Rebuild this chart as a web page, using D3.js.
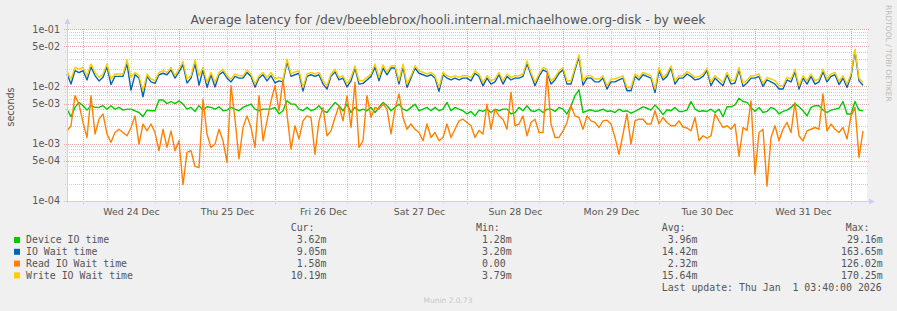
<!DOCTYPE html>
<html>
<head>
<meta charset="utf-8">
<script src="https://cdn.jsdelivr.net/npm/d3@7"></script>
<style>
body { margin: 0; background: #f0f0f0; }
svg { display: block; }
svg text { white-space: pre; }
</style>
</head>
<body>
<svg id="chart" width="897" height="311"></svg>
<script>
// hourly samples in milliseconds, first one at Tue 23 Dec 20:00
var deviceIO = [
  4.0,2.95,4.3,5.25,4.6,3.85,4.6,4.3,4.3,4.6, 4.0,4.6,4.0,4.3,3.85,4.0,4.0,3.75,3.5,2.95,
  3.85,3.75,3.75,5.8,5.8,5.0,5.45,5.0,5.6,4.9, 4.0,4.3,3.65,4.6,3.85,4.4,4.3,4.0,4.4,3.75,
  3.85,4.3,4.0,3.75,4.3,4.6,4.9,4.0,3.75,4.0,
  4.0,4.0,4.3,3.3,3.75,5.6,4.9,4.9,4.0,3.75, 4.3,3.75,4.0,4.6,3.75,3.5,4.3,5.25,4.6,3.75,
  4.9,3.5,4.3,3.75,4.0,3.75,4.3,3.5,4.3,5.25, 4.6,3.75,4.3,4.9,4.0,3.75,4.3,4.9,3.75,4.0,
  4.3,3.75,4.3,3.75,4.0,5.25,3.75,4.3,4.0,3.75,
  3.3,3.65,3.05,3.85,3.65,4.0,3.5,4.0,3.75,4.0, 4.0,3.3,3.5,4.3,3.75,4.6,3.75,3.65,4.0,3.5,
  4.0,4.0,3.65,4.3,4.0,3.3,4.6,6.9,8.7,3.5, 3.75,3.9,3.65,3.75,4.0,3.65,3.75,3.5,4.0,3.65,
  3.75,3.4,3.65,4.0,4.4,4.15,3.85,4.75,4.0,3.2,
  3.9,3.75,4.3,3.65,3.65,3.85,5.45,4.0,3.65,3.75, 3.65,4.0,3.5,4.0,2.95,4.4,4.4,4.75,6.2,5.45,
  5.25,4.3,3.65,4.3,3.5,3.65,4.3,4.0,3.3,3.65, 3.85,4.3,5.0,4.4,3.75,3.05,4.3,4.6,4.6,3.85,
  3.5,3.85,4.0,4.15,5.45,3.3,3.3,5.45,3.85,3.75
];
var ioWait = [
  16.5,11,19,17.5,19,13,22,15.5,12.5,14.5, 22,10.8,15,15,15,25,8.6,16,14,6.6,
  15,12,11.3,16,17,16,19.5,14,18,24, 11.5,14,25,10.5,19.5,9.6,16,9.8,16,18,
  14,12,15,14,14,17.5,15,9.7,14,16,
  12.5,15.5,11.5,12.5,12,27,15,16,17,8.3, 15,16,15,16,11,9,15,18,13,14,
  9.8,12.5,21,11,11.3,13,15,22,12.5,21, 16,21,21,11,22,9.6,14,21,17,16,
  15,16,14,8.2,16,14,13,14,13,14,
  14,12.5,17,15,10.2,14,11,12,16,11, 15,13,14,14,15,25,16,10.3,15,19.5,
  18,11,13,17,19.5,11,11,19.5,33,10.5, 14,14,12,12,14,9,12,12,13,14,
  8.4,8.4,15,13,16,15,14,7.8,19,13,
  15,21,11,14,14,16.5,15,13,13.5,15, 19,10.3,14,12,10.3,16,11,11.5,19.5,10,
  11.5,14,14,15,10,13,12,11,9,9, 13,12,18,9,14,11,15,11,12,18,
  12,15,16,10.8,14,9.6,15,42,12.5,10.5
];
var readWait = [
  1.67,2.05,6.9,4.9,2.34,1.28,6.9,1.47,2.67,3.3, 1.47,1.05,1.56,1.78,1.56,1.37,1.91,3.05,0.98,2.2,
  1.67,2.2,1.56,0.75,1.78,0.855,1.67,0.75,1.12,0.19, 0.7,0.75,0.4,0.38,6.0,1.47,0.855,0.98,1.78,1.12,
  0.47,10.3,2.67,0.54,1.91,3.05,1.91,0.855,6.9,1.12,
  2.5,5.6,10.3,3.75,13.5,3.3,0.8,2.05,1.2,2.5, 3.05,2.86,0.65,2.5,4.3,1.37,1.67,2.86,4.6,2.5,
  6.9,1.91,11.8,0.855,1.12,6.9,2.86,4.3,4.0,4.9, 4.0,1.47,4.0,7.4,2.86,1.78,2.2,1.78,1.56,1.12,
  2.2,1.28,1.56,1.12,1.28,2.2,1.28,1.78,2.5,2.67,
  2.34,2.05,1.28,1.7,1.47,4.9,1.78,4.0,3.05,2.67, 1.78,7.9,2.05,2.2,3.05,1.37,2.34,2.67,1.56,1.56,
  16.5,2.2,1.28,1.28,1.67,2.34,4.6,3.05,2.86,1.78, 3.05,2.5,2.34,1.91,2.5,2.57,2.2,1.28,0.65,1.47,
  3.3,0.98,2.5,2.67,2.67,2.2,2.2,3.75,2.2,2.86,
  2.34,2.05,2.05,2.5,1.95,1.87,1.67,2.86,1.12,1.37, 1.25,1.37,3.3,2.5,1.91,2.05,1.78,2.2,0.6,1.91,
  1.7,5.6,0.29,1.56,1.78,0.18,1.28,2.05,1.12,1.78, 2.34,1.56,5.25,1.37,1.12,1.67,1.78,1.91,1.78,7.4,
  1.67,2.2,1.78,1.56,1.91,1.2,3.05,4.3,0.57,1.67
];
var writeWait = [
  18.8,13.5,21.5,20,21.5,15.4,24.7,17.6,14.4,16.5, 24.7,13.5,16.5,16.5,16.5,29,14.4,17.6,15.4,8.4,
  16.5,13.5,12.6,17.6,18.8,17.6,21.5,15.4,20,27.5, 13.5,15.4,29,15.4,21.5,11.8,17.6,11.8,17.6,20,
  15.4,13.5,16.5,15.4,15.4,19.3,16.5,11,15.4,17.6,
  14.4,17.6,13.5,14.4,13.5,30,16.5,18,18.8,9.6, 16.5,17.6,16.5,17.6,12.6,10.3,16.5,20,14.4,15.4,
  11,14.4,23,12.6,12.6,14.4,16.5,24.7,14.4,24, 17.6,23,23,12.6,24.7,11,15.4,23,18.8,17.6,
  16.5,17.6,15.4,9.6,17.6,15.4,14.4,15.4,14.4,15.4,
  15.4,14.4,18.8,16.5,11.8,15.4,12.6,13.5,17.6,12.6, 16.5,14.4,15.4,15.4,16.5,28,17.6,11.8,16.5,21.5,
  20,12.6,14.4,18.8,21.5,12.6,12.6,21.5,36,12.6, 15.4,15.4,13.5,13.5,15.4,10.3,13.5,13.5,14.4,15.4,
  9.6,9.6,16.5,14.4,17.6,16.5,15.4,9,21.5,14.4,
  16.9,23,12.6,15.4,15.4,18.3,16.5,14.4,15,16.5, 21,11.8,15.4,13.5,11.8,17.6,12.6,13,21.5,11.4,
  13,15.4,15.4,16.5,11.4,14.4,13.5,12.6,10.3,10.3, 14.4,13.5,20,10.3,15.4,12.6,16.5,12.6,13.5,20,
  13.5,16.5,17.6,12.3,15.4,11,16.5,45,13.9,11.8
];

var seriesNames = ["Device IO time", "IO Wait time", "Read IO Wait time", "Write IO Wait time"];
var curVals = [" 3.62m", " 9.05m", " 1.58m", "10.19m"];
var minVals = [" 1.28m", " 3.20m", " 0.00", " 3.79m"];
var avgVals = [" 3.96m", "14.42m", " 2.32m", "15.64m"];
var maxVals = ["29.16m", "163.65m", "126.02m", "170.25m"];

var yTicks = [1e-1, 5e-2, 1e-2, 5e-3, 1e-3, 5e-4, 1e-4];
var yTickLabels = ["1e-01", "5e-02", "1e-02", "5e-03", "1e-03", "5e-04", "1e-04"];
var dayLabels = ["Wed 24 Dec", "Thu 25 Dec", "Fri 26 Dec", "Sat 27 Dec", "Sun 28 Dec", "Mon 29 Dec", "Tue 30 Dec", "Wed 31 Dec"];

var colors = ["#00cc00", "#0066b3", "#ff8000", "#ffcc00"];

function draw()
{
  var allSeries = [deviceIO, ioWait, readWait, writeWait];
  var svg = d3.select("#chart");
  var pLeft = 67, pRight = 867, pTop = 29.3, pBottom = 200.7;
  var start = Date.UTC(2025, 11, 23, 20, 0);
  var end = start + 800 * 900 * 1000;

  var x = d3.scaleUtc().domain([start, end]).range([pLeft, pRight]);
  var y = d3.scaleLog().domain([1e-4, 1e-1]).range([pBottom, pTop]);

  var sans = "DejaVu Sans, sans-serif";
  var mono = "DejaVu Sans Mono, monospace";

  svg.append("rect").attr("x", pLeft).attr("y", 29).attr("width", pRight - pLeft).attr("height", 172)
    .attr("fill", "#fff");

  // horizontal grid
  var hmin = [], hmaj = [];
  [1e-4, 1e-3, 1e-2].forEach(function(d) {
    for (var m = 1; m <= 9; m++) {
      if (m == 1 || m == 5) hmaj.push(m * d); else hmin.push(m * d);
    }
  });
  hmaj.push(1e-1);

  var grid = svg.append("g").attr("shape-rendering", "crispEdges");
  grid.selectAll(".hmin").data(hmin).enter().append("line")
    .attr("x1", pLeft - 2).attr("x2", pRight + 2)
    .attr("y1", function(d) { return Math.round(y(d)) + 0.5 })
    .attr("y2", function(d) { return Math.round(y(d)) + 0.5 })
    .attr("stroke", "#d0d0d0").attr("stroke-dasharray", "1,1");

  var hours = d3.utcHour.every(6).range(new Date(start), new Date(end));
  grid.selectAll(".vline").data(hours).enter().append("line")
    .attr("x1", function(d) { return Math.round(x(d)) + 0.5 })
    .attr("x2", function(d) { return Math.round(x(d)) + 0.5 })
    .attr("y1", 29).attr("y2", pBottom + 3)
    .attr("stroke", function(d) { return d.getUTCHours() == 0 ? "#e5a9a9" : "#d0d0d0" })
    .attr("stroke-dasharray", "1,1");

  grid.selectAll(".hmaj").data(hmaj).enter().append("line")
    .attr("x1", pLeft - 3).attr("x2", pRight + 2)
    .attr("y1", function(d) { return Math.round(y(d)) + 0.5 })
    .attr("y2", function(d) { return Math.round(y(d)) + 0.5 })
    .attr("stroke", "#e5a9a9").attr("stroke-dasharray", "1,1");

  // series
  var line = d3.line()
    .x(function(d, i) { return x(start + i * 3600 * 1000) })
    .y(function(d) { return y(d / 1000) });

  svg.append("g").selectAll("path").data(allSeries).enter().append("path")
    .attr("d", line)
    .attr("fill", "none")
    .attr("stroke", function(d, i) { return colors[i] })
    .attr("stroke-width", 1.4)
    .attr("stroke-linejoin", "round");

  // axes
  var axisCol = "#c8d0f4";
  svg.append("line").attr("x1", pLeft + 0.5).attr("x2", pLeft + 0.5).attr("y1", pBottom + 2).attr("y2", 23)
    .attr("stroke", axisCol);
  svg.append("path").attr("d", "M" + (pLeft - 2.5) + ",24 L" + (pLeft + 0.5) + ",18 L" + (pLeft + 3.5) + ",24 Z")
    .attr("fill", axisCol);
  svg.append("line").attr("x1", pLeft - 3).attr("x2", pRight + 3).attr("y1", pBottom + 0.8).attr("y2", pBottom + 0.8)
    .attr("stroke", axisCol);
  svg.append("path").attr("d", "M" + (pRight + 2) + "," + (pBottom - 2.2) + " L" + (pRight + 8) + "," + (pBottom + 0.8) +
      " L" + (pRight + 2) + "," + (pBottom + 3.8) + " Z")
    .attr("fill", axisCol);

  var yAxis = d3.axisLeft(y).tickValues(yTicks)
    .tickFormat(function(d, i) { return yTickLabels[i] }).tickSize(0).tickPadding(7);
  var gy = svg.append("g").attr("transform", "translate(" + pLeft + ",0)").call(yAxis);
  gy.select(".domain").remove();
  gy.selectAll("text").attr("font-family", sans).attr("font-size", "9.6px").attr("fill", "#555");

  var noons = dayLabels.map(function(d, i) { return Date.UTC(2025, 11, 24 + i, 12, 0) });
  var xAxis = d3.axisBottom(x).tickValues(noons)
    .tickFormat(function(d, i) { return dayLabels[i] }).tickSize(0).tickPadding(8);
  var gx = svg.append("g").attr("transform", "translate(0," + pBottom + ")").call(xAxis);
  gx.select(".domain").remove();
  gx.selectAll("text").attr("font-family", sans).attr("font-size", "9.4px").attr("fill", "#555");

  // titles
  svg.append("text").attr("x", 448).attr("y", 24).attr("text-anchor", "middle")
    .attr("font-family", sans).attr("font-size", "12.4px").attr("fill", "#555")
    .text("Average latency for /dev/beeblebrox/hooli.internal.michaelhowe.org-disk - by week");

  svg.append("text").attr("transform", "translate(14,107) rotate(-90)").attr("text-anchor", "middle")
    .attr("font-family", sans).attr("font-size", "9.6px").attr("fill", "#555").text("seconds");

  svg.append("text").attr("transform", "translate(885.5,5) rotate(90)")
    .attr("font-family", sans).attr("font-size", "7.5px").attr("fill", "#bbbbbb").text("RRDTOOL / TOBI OETIKER");

  svg.append("text").attr("x", 448).attr("y", 302.5).attr("text-anchor", "middle")
    .attr("font-family", sans).attr("font-size", "7.5px").attr("fill", "#c8c8c8").text("Munin 2.0.73");

  // legend
  var leg = svg.append("g").attr("font-family", mono).attr("font-size", "9.9px").attr("fill", "#555");
  var rowY = function(i) { return 243.3 + i * 11.8 };

  function txt(g, xx, yy, s, anchor) {
    return g.append("text").attr("xml:space", "preserve").attr("x", xx).attr("y", yy)
      .attr("text-anchor", anchor || "start").text(s);
  }

  txt(leg, 290.7, 230.8, "Cur:");
  txt(leg, 476, 230.8, "Min:");
  txt(leg, 661.7, 230.8, "Avg:");
  txt(leg, 845.7, 230.8, "Max:");

  seriesNames.forEach(function(name, i) {
    leg.append("rect").attr("x", 14).attr("y", rowY(i) - 6.3)
      .attr("width", 6).attr("height", 6).attr("fill", colors[i]);
    txt(leg, 26, rowY(i), name);
    txt(leg, 290.7, rowY(i), curVals[i]);
    txt(leg, 476, rowY(i), minVals[i]);
    txt(leg, 661.7, rowY(i), avgVals[i]);
    txt(leg, 882.7, rowY(i), maxVals[i], "end");
  });

  txt(leg, 661.7, rowY(4), "Last update: Thu Jan  1 03:40:00 2026");
}

draw();
</script>
</body>
</html>
